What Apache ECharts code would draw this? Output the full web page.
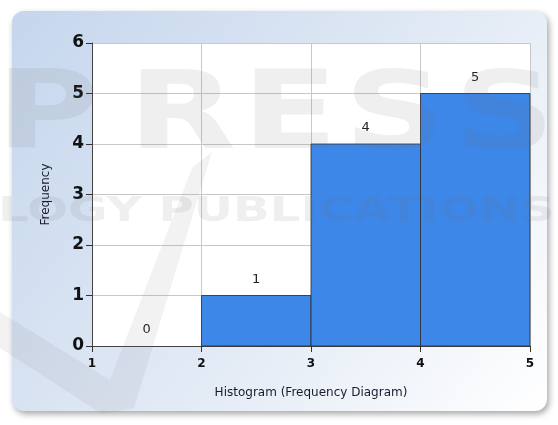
<!DOCTYPE html>
<html>
<head>
<meta charset="utf-8">
<script src="https://cdn.jsdelivr.net/npm/echarts@6/dist/echarts.min.js"></script>
<style>
  html, body { margin: 0; padding: 0; background: #fff; }
  #main { width: 558px; height: 425px; }
</style>
</head>
<body>
<div id="main"></div>
<script>
var myChart = echarts.init(document.getElementById('main'));

// histogram bins (lower edge, upper edge) and counts
var binStart = [1, 2, 3, 4];
var binEnd = [2, 3, 4, 5];
var counts = [0, 1, 4, 5];

var yTicks = [0, 1, 2, 3, 4, 5, 6];
var xTicks = [1, 2, 3, 4, 5];

var data = [];
for (var i = 0; i < counts.length; i++) {
    data.push([binStart[i], binEnd[i], counts[i]]);
}

var wmFill = 'rgba(110,110,110,0.11)';

function renderBin(params, api) {
    var x0 = api.value(0), x1 = api.value(1), v = api.value(2);
    var p0 = api.coord([x0, 0]);
    var p1 = api.coord([x1, v]);
    var children = [];
    if (v > 0) {
        children.push({
            type: 'rect',
            shape: { x: p0[0], y: p1[1], width: p1[0] - p0[0], height: p0[1] - p1[1] },
            style: { fill: '#3d87e9', stroke: '#2b2b2b', lineWidth: 0.8 }
        });
    }
    children.push({
        type: 'text',
        style: {
            x: (p0[0] + p1[0]) / 2, y: p1[1] - 16,
            text: String(v), align: 'center', verticalAlign: 'middle',
            fill: '#222', font: '13px "DejaVu Sans"'
        }
    });
    return { type: 'group', children: children };
}

option = {
    animation: false,
    backgroundColor: '#fff',
    graphic: [
        {
            type: 'rect', z: -10,
            shape: { x: 12, y: 11, width: 535, height: 400, r: 12 },
            style: {
                fill: new echarts.graphic.LinearGradient(0, 0, 1, 1, [
                    { offset: 0, color: '#c5d6ed' },
                    { offset: 0.55, color: '#e2eaf5' },
                    { offset: 1, color: '#ffffff' }
                ]),
                shadowBlur: 6, shadowOffsetX: 2, shadowOffsetY: 3,
                shadowColor: 'rgba(0,0,0,0.35)'
            }
        },
        // watermark
        { type: 'text', z: 100, silent: true, x: -4, y: 66, scaleX: 1.3,
          style: { text: 'P', font: 'bold 108px "DejaVu Sans"', fill: wmFill } },
        { type: 'text', z: 100, silent: true, x: 128, y: 66, scaleX: 1.3,
          style: { text: 'R', font: 'bold 108px "DejaVu Sans"', fill: wmFill } },
        { type: 'text', z: 100, silent: true, x: 242, y: 66, scaleX: 1.3,
          style: { text: 'E', font: 'bold 108px "DejaVu Sans"', fill: wmFill } },
        { type: 'text', z: 100, silent: true, x: 344, y: 66, scaleX: 1.3,
          style: { text: 'S', font: 'bold 108px "DejaVu Sans"', fill: wmFill } },
        { type: 'text', z: 100, silent: true, x: 454, y: 66, scaleX: 1.3,
          style: { text: 'S', font: 'bold 108px "DejaVu Sans"', fill: wmFill } },
        { type: 'text', z: 100, silent: true, x: -2, y: 195, scaleX: 1.42,
          style: { text: 'LOGY PUBLICATIONS', font: 'bold 34px "DejaVu Sans"', fill: wmFill } },
        { type: 'polygon', z: 100, silent: true,
          shape: { points: [[0, 312], [110, 380], [192, 168], [212, 152], [134, 408], [102, 414], [0, 348]] },
          style: { fill: 'rgba(110,110,110,0.09)' } }
    ],
    grid: {
        left: 92, right: 28, top: 43, bottom: 79,
        show: true, backgroundColor: '#fff', borderWidth: 0
    },
    xAxis: {
        type: 'value', min: 1, max: 5, interval: 1,
        name: 'Histogram (Frequency Diagram)',
        nameLocation: 'middle', nameGap: 41,
        nameTextStyle: { fontFamily: 'DejaVu Sans', fontSize: 12, color: '#1a1a2e' },
        axisLine: { show: true, lineStyle: { color: '#444', width: 1 } },
        axisTick: { show: true, length: 6, lineStyle: { color: '#333' } },
        axisLabel: {
            fontFamily: 'DejaVu Sans', fontWeight: 'bold', fontSize: 12, color: '#111', margin: 12,
            formatter: function (v) { return xTicks.indexOf(v) >= 0 ? String(v) : ''; }
        },
        splitLine: { show: true, lineStyle: { color: '#c8c8c8', width: 1 } }
    },
    yAxis: {
        type: 'value', min: 0, max: 6, interval: 1,
        name: 'Frequency',
        nameLocation: 'middle', nameGap: 40,
        nameTextStyle: { fontFamily: 'DejaVu Sans', fontSize: 12, color: '#1a1a2e' },
        axisLine: { show: true, lineStyle: { color: '#444', width: 1 } },
        axisTick: { show: true, length: 6, lineStyle: { color: '#333' } },
        axisLabel: {
            fontFamily: 'DejaVu Sans', fontWeight: 'bold', fontSize: 17, color: '#111', margin: 8,
            formatter: function (v) { return yTicks.indexOf(v) >= 0 ? String(v) : ''; }
        },
        splitLine: { show: true, lineStyle: { color: '#c8c8c8', width: 1 } }
    },
    series: [{
        type: 'custom',
        renderItem: renderBin,
        encode: { x: [0, 1], y: 2 },
        data: data
    }]
};

myChart.setOption(option);
</script>
</body>
</html>
